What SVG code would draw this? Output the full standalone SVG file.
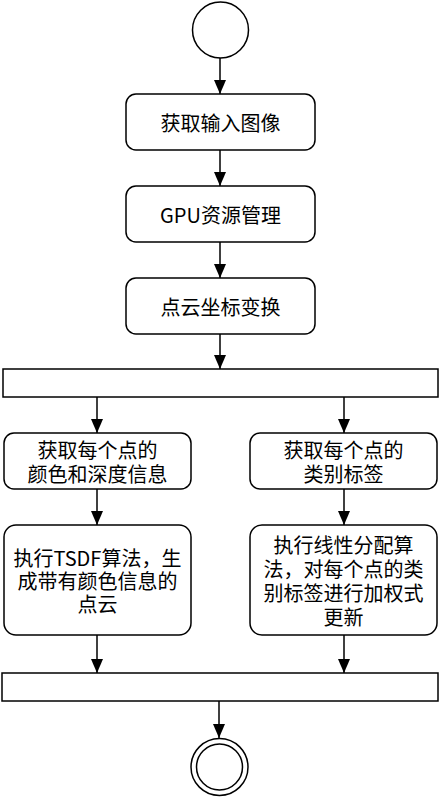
<svg xmlns="http://www.w3.org/2000/svg" width="440" height="797" viewBox="0 0 440 797">
<style>
.n{fill:#fff;stroke:#000;stroke-width:1.5}
.c{fill:none;stroke:#000;stroke-width:1.5}
text{font-family:"Noto Sans CJK SC","Noto Sans",sans-serif;font-size:20px;fill:#000;text-anchor:middle;dominant-baseline:central}
</style>
<defs>
<marker id="ah" markerUnits="userSpaceOnUse" markerWidth="14" markerHeight="12" refX="14" refY="6" orient="auto">
<path d="M0,0 L14,6 L0,12 z" fill="#000"/>
</marker>
</defs>
<g id="connectors">
<line class="c" x1="220" y1="58" x2="220" y2="94" marker-end="url(#ah)"/>
<line class="c" x1="220" y1="150" x2="220" y2="186" marker-end="url(#ah)"/>
<line class="c" x1="220" y1="242" x2="220" y2="278" marker-end="url(#ah)"/>
<line class="c" x1="220" y1="334" x2="220" y2="369" marker-end="url(#ah)"/>
<line class="c" x1="97" y1="397" x2="97" y2="433" marker-end="url(#ah)"/>
<line class="c" x1="344" y1="397" x2="344" y2="433" marker-end="url(#ah)"/>
<line class="c" x1="97" y1="489" x2="97" y2="525" marker-end="url(#ah)"/>
<line class="c" x1="344" y1="489" x2="344" y2="525" marker-end="url(#ah)"/>
<line class="c" x1="97" y1="635" x2="97" y2="673" marker-end="url(#ah)"/>
<line class="c" x1="344" y1="635" x2="344" y2="673" marker-end="url(#ah)"/>
<line class="c" x1="219" y1="701" x2="219" y2="738" marker-end="url(#ah)"/>
</g>
<g id="start"><circle class="n" cx="220.5" cy="30" r="28"/></g>
<g id="n1"><rect class="n" x="126" y="94" width="189" height="56" rx="10"/><text x="220.5" y="122">获取输入图像</text></g>
<g id="n2"><rect class="n" x="126" y="186" width="189" height="56" rx="10"/><text x="220.5" y="214">GPU资源管理</text></g>
<g id="n3"><rect class="n" x="126" y="278" width="189" height="56" rx="10"/><text x="220.5" y="306">点云坐标变换</text></g>
<g id="fork"><rect class="n" x="3" y="369" width="435" height="28"/></g>
<g id="l1"><rect class="n" x="4" y="433" width="187" height="56" rx="10"/><text x="97.5" y="449">获取每个点的</text><text x="97.5" y="473">颜色和深度信息</text></g>
<g id="r1"><rect class="n" x="250" y="433" width="187" height="56" rx="10"/><text x="343.5" y="449">获取每个点的</text><text x="343.5" y="473">类别标签</text></g>
<g id="l2"><rect class="n" x="4" y="525" width="187" height="110" rx="12"/><text x="97.5" y="557">执行TSDF算法，生</text><text x="97.5" y="580">成带有颜色信息的</text><text x="97.5" y="603">点云</text></g>
<g id="r2"><rect class="n" x="250" y="525" width="187" height="110" rx="12"/><text x="343.5" y="544">执行线性分配算</text><text x="343.5" y="568">法，对每个点的类</text><text x="343.5" y="592">别标签进行加权式</text><text x="343.5" y="616">更新</text></g>
<g id="join"><rect class="n" x="2" y="673" width="436" height="28"/></g>
<g id="end"><circle class="n" cx="219.5" cy="767" r="28.5"/><circle class="n" cx="219.5" cy="767" r="23"/></g>
</svg>
